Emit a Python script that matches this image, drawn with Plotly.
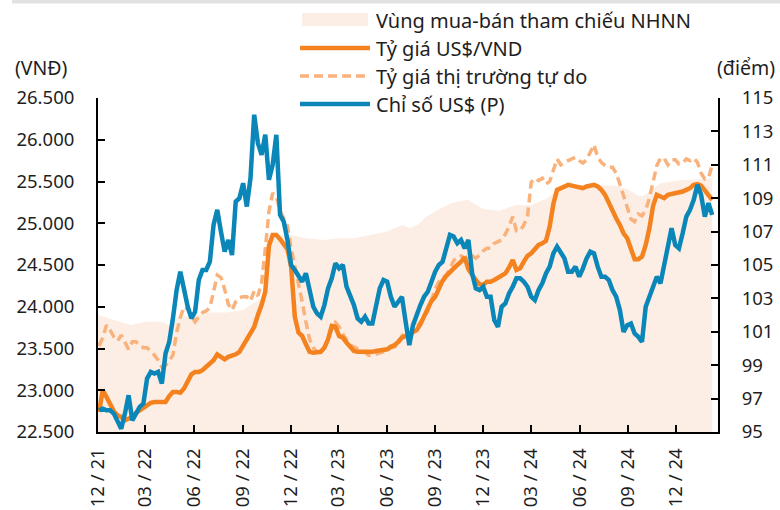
import pandas as pd
import plotly.graph_objects as go

# ---------------- data ----------------
# weekly observation dates (Fridays) 03/12/2021 -> 07/02/2025
week_dates = pd.date_range("2021-12-03", periods=167, freq="7D")

# Official US$/VND rate (VND)
usd_vnd = [
    22740, 23000, 22920, 22820, 22750, 22700, 22680, 22640, 22660, 22680,
    22730, 22760, 22790, 22810, 22850, 22860, 22860, 22860, 22860, 22930,
    22980, 22980, 22970, 23020, 23110, 23190, 23220, 23220, 23240, 23280,
    23330, 23360, 23430, 23400, 23370, 23400, 23410, 23430, 23460, 23530,
    23600, 23670, 23760, 23900, 24020, 24180, 24730, 24860, 24860, 24810,
    24760, 24690, 24480, 23880, 23690, 23650, 23550, 23460, 23450, 23450,
    23460, 23510, 23610, 23770, 23760, 23650, 23630, 23570, 23520, 23470,
    23460, 23460, 23460, 23450, 23460, 23470, 23480, 23480, 23490, 23520,
    23540, 23580, 23630, 23650, 23670, 23690, 23720, 23790, 23880, 23970,
    24070, 24120, 24230, 24310, 24370, 24420, 24460, 24500, 24540, 24590,
    24450, 24380, 24320, 24270, 24260, 24300, 24300, 24320, 24350, 24380,
    24400, 24470, 24560, 24440, 24460, 24540, 24610, 24640, 24690, 24740,
    24760, 24790, 24960, 25230, 25400, 25420, 25440, 25460, 25450, 25440,
    25440, 25420, 25440, 25450, 25460, 25440, 25400, 25340, 25240, 25150,
    25060, 24980, 24880, 24820, 24680, 24570, 24570, 24600, 24740, 24940,
    25210, 25340, 25320, 25300, 25340, 25350, 25360, 25360, 25380, 25400,
    25420, 25460, 25470, 25450, 25400, 25340, 25280,
]

# Free-market rate (VND)
free_market = [
    23530, 23630, 23780, 23720, 23640, 23590, 23660, 23570, 23490, 23580,
    23580, 23540, 23510, 23510, 23470, 23420, 23360, 23280, 23300, 23350,
    23420, 23690, 23870, 24000, 23970, 23900, 23820, 23880, 23930, 23950,
    23990, 24180, 24380, 24350, 24210, 24030, 23960, 24060, 24110, 24120,
    24120, 24070, 24190, 24130, 24290, 24690, 25140, 25360, 25320, 25150,
    25050, 24970, 24700, 24490, 24320, 24060, 23820, 23610, 23510, 23460,
    23460, 23510, 23610, 23730, 23810, 23760, 23670, 23600, 23540, 23520,
    23490, 23470, 23450, 23420, 23420, 23430, 23450, 23460, 23480, 23510,
    23520, 23550, 23650, 23700, 23670, 23700, 23760, 23810, 23870, 23950,
    24080, 24210, 24300, 24350, 24370, 24460, 24550, 24600, 24610, 24580,
    24610, 24610, 24580, 24620, 24670, 24700, 24700, 24760, 24780, 24800,
    24870, 24960, 25080, 24910, 24910, 24980, 25080, 25490, 25540, 25510,
    25540, 25470, 25500, 25630, 25770, 25700, 25730, 25750, 25770, 25790,
    25750, 25720, 25760, 25850, 25940, 25790, 25730, 25690, 25670, 25670,
    25600, 25470, 25330, 25220, 25050, 25020, 25110, 25090, 25160, 25300,
    25480, 25690, 25780, 25780, 25700, 25760, 25760, 25710, 25720, 25770,
    25750, 25780, 25730, 25600, 25530, 25540, 25700,
]

# US$ index (points, right axis)
usd_index = [
    96.3, 96.4, 96.3, 96.3, 96.1, 95.6, 95.2, 96.1, 97.2, 95.7,
    96.1, 96.5, 96.7, 98.2, 98.6, 98.5, 98.6, 97.9, 99.7, 100.4,
    101.8, 103.5, 104.6, 103.5, 102.5, 101.8, 102.2, 104.1, 104.7, 104.7,
    105.2, 107.4, 108.3, 107.0, 105.8, 106.5, 105.6, 108.8, 109.0, 109.9,
    108.5, 110.2, 114.0, 112.3, 111.6, 112.8, 110.1, 111.0, 112.8, 108.0,
    107.6, 106.5, 105.0, 104.7, 104.4, 104.0, 104.5, 103.4, 102.5, 102.1,
    101.9, 102.6, 103.6, 104.2, 105.1, 104.8, 105.0, 103.7, 103.1, 102.6,
    101.8, 101.6, 101.9, 101.5, 101.5, 102.7, 103.6, 104.1, 104.0, 103.1,
    102.5, 102.8, 103.1, 101.6, 100.2, 101.4, 102.1, 102.6, 103.1, 103.4,
    104.0, 104.6, 105.0, 105.2, 106.0, 106.8, 106.7, 106.3, 106.5, 106.0,
    106.5, 104.5, 103.6, 103.5, 103.7, 103.1, 103.1, 101.7, 101.3, 102.5,
    102.7, 103.3, 103.7, 104.2, 104.2, 104.0, 103.7, 103.1, 102.9, 103.5,
    103.9, 104.5, 104.9, 105.7, 106.1, 105.8, 105.4, 104.6, 104.6, 104.9,
    104.3, 104.8, 105.4, 105.8, 105.7, 104.9, 104.3, 104.3, 104.1, 103.5,
    103.1, 102.3, 101.0, 101.4, 101.5, 100.9, 100.7, 100.4, 102.5, 103.1,
    103.7, 104.3, 103.9, 105.0, 106.3, 107.2, 106.2, 106.0, 106.9, 107.9,
    108.3, 108.9, 109.8, 109.2, 107.9, 108.7, 108.0,
]

# SBV reference trading band (upper bound, VND)
band_dates = [
    "2021-12-01", "2022-01-01", "2022-02-01", "2022-03-01", "2022-04-01",
    "2022-04-15", "2022-05-01", "2022-06-01", "2022-07-01", "2022-08-01",
    "2022-09-01", "2022-10-01", "2022-10-14", "2022-10-17", "2022-11-01",
    "2022-12-01", "2023-01-01", "2023-02-01", "2023-03-01", "2023-04-01",
    "2023-05-01", "2023-06-01", "2023-07-01", "2023-07-15", "2023-08-01",
    "2023-08-15", "2023-09-01", "2023-10-01", "2023-11-01", "2023-12-01",
    "2024-01-01", "2024-02-01", "2024-03-01", "2024-04-01", "2024-04-15",
    "2024-05-01", "2024-06-01", "2024-07-01", "2024-08-01", "2024-08-15",
    "2024-09-01", "2024-09-20", "2024-10-01", "2024-10-15", "2024-11-01",
    "2024-12-01", "2025-01-01", "2025-02-07",
]
band_upper = [
    23900, 23840, 23780, 23820, 23820,
    23780, 23870, 23900, 23930, 23930,
    23960, 24080, 24110, 24800, 24850,
    24860, 24820, 24800, 24820, 24820,
    24860, 24900, 24980, 24940, 24990,
    25080, 25140, 25240, 25280, 25170,
    25150, 25220, 25220, 25300, 25380,
    25440, 25460, 25460, 25450, 25440,
    25400, 25330, 25330, 25400, 25480,
    25510, 25520, 25540,
]

left_ticks = [22500, 23000, 23500, 24000, 24500, 25000, 25500, 26000, 26500]
right_ticks = [95, 97, 99, 101, 103, 105, 107, 109, 111, 113, 115]

legend_labels = [
    "Vùng mua-bán tham chiếu NHNN",
    "Tỷ giá US$/VND",
    "Tỷ giá thị trường tự do",
    "Chỉ số US$ (P)",
]

# ---------------- styling ----------------
FONT = "Noto Sans"
TXT = "#1e1e1e"
C_BAND = "#FCEEE4"
C_ORANGE = "#F4821F"
C_DASH = "#F9B27C"
C_BLUE = "#0A86B8"

fig = go.Figure()

fig.add_trace(go.Scatter(
    x=band_dates, y=band_upper, mode="lines", fill="tozeroy",
    fillcolor=C_BAND, line=dict(width=0, color=C_BAND),
    name=legend_labels[0], showlegend=False, hoverinfo="skip",
))
fig.add_trace(go.Scatter(
    x=week_dates, y=free_market, mode="lines",
    line=dict(color=C_DASH, width=3.5, dash="9px,5px"),
    name=legend_labels[2], showlegend=False,
))
fig.add_trace(go.Scatter(
    x=week_dates, y=usd_vnd, mode="lines",
    line=dict(color=C_ORANGE, width=4.5),
    name=legend_labels[1], showlegend=False,
))
fig.add_trace(go.Scatter(
    x=week_dates, y=usd_index, mode="lines", yaxis="y2",
    line=dict(color=C_BLUE, width=4.5),
    name=legend_labels[3], showlegend=False,
))

# plot area in pixels: left 98, right 718, top 98, bottom 432
L, R, T, B = 98, 718, 98, 432
W, H = R - L, B - T


def px(x):
    return (x - L) / W


def py(y):
    return (B - y) / H


shapes = [
    # thin grey bar across the top of the picture
    dict(type="rect", xref="paper", yref="paper",
         x0=px(12), x1=px(780), y0=py(3.5), y1=py(0),
         fillcolor="#E2E2E2", line=dict(width=0), layer="above"),
    # manual legend symbols
    dict(type="rect", xref="paper", yref="paper",
         x0=px(302), x1=px(368), y0=py(26), y1=py(13),
         fillcolor=C_BAND, line=dict(width=0)),
    dict(type="line", xref="paper", yref="paper",
         x0=px(300), x1=px(370), y0=py(48), y1=py(48),
         line=dict(color=C_ORANGE, width=4.5)),
    dict(type="line", xref="paper", yref="paper",
         x0=px(300), x1=px(370), y0=py(76), y1=py(76),
         line=dict(color=C_DASH, width=3.5, dash="9px,5px")),
    dict(type="line", xref="paper", yref="paper",
         x0=px(300), x1=px(370), y0=py(104), y1=py(104),
         line=dict(color=C_BLUE, width=4.5)),
]

annotations = []
for lab, yy in zip(legend_labels, [20, 48, 76, 104]):
    annotations.append(dict(
        text=lab, xref="paper", yref="paper", x=px(374), y=py(yy),
        xanchor="left", yanchor="middle", showarrow=False,
        font=dict(family=FONT, size=20, color=TXT),
    ))
annotations.append(dict(
    text="(VNĐ)", xref="paper", yref="paper", x=px(13), y=py(67),
    xanchor="left", yanchor="middle", showarrow=False,
    font=dict(family=FONT, size=19.5, color=TXT),
))
annotations.append(dict(
    text="(điểm)", xref="paper", yref="paper", x=px(715), y=py(67),
    xanchor="left", yanchor="middle", showarrow=False,
    font=dict(family=FONT, size=19.5, color=TXT),
))

axis_common = dict(
    showgrid=False, zeroline=False, showline=True, linecolor="black",
    linewidth=2, ticks="inside", ticklen=7, tickwidth=2, tickcolor="black",
    tickfont=dict(family=FONT, size=18.5, color=TXT), automargin=False,
)

fig.update_layout(
    width=780, height=510,
    margin=dict(l=L, r=780 - R, t=T, b=510 - B, autoexpand=False),
    paper_bgcolor="white", plot_bgcolor="white",
    separators=",.",
    showlegend=False,
    font=dict(family=FONT, size=19, color=TXT),
    xaxis=dict(
        type="date", range=["2021-12-01", "2025-02-18"],
        tick0="2021-12-01", dtick="M3", tickformat="%m / %y",
        tickangle=-90, ticklabelstandoff=7, **axis_common,
    ),
    yaxis=dict(
        range=[22500, 26500], tickvals=left_ticks, tickformat=",d",
        ticklabelstandoff=18, **axis_common,
    ),
    yaxis2=dict(
        range=[95, 115], tickvals=right_ticks, overlaying="y", side="right",
        anchor="x", ticklabelstandoff=18, **axis_common,
    ),
    shapes=shapes,
    annotations=annotations,
)

fig.write_html(
    "out.html",
    config={"displayModeBar": False},
    post_script="document.body.style.margin='0';document.body.style.overflow='hidden';",
)
